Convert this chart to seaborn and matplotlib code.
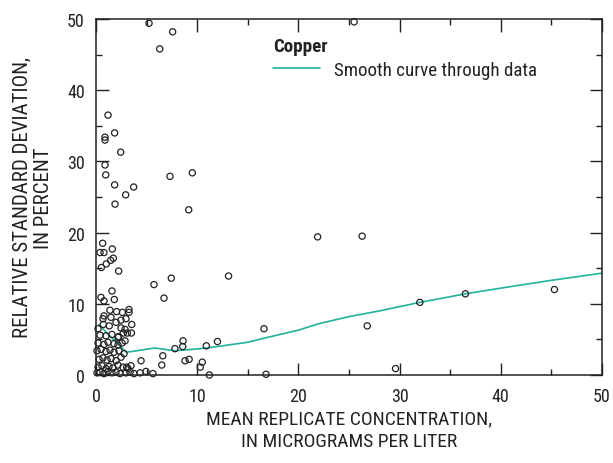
import matplotlib
matplotlib.use("Agg")
import matplotlib.pyplot as plt
import seaborn as sns
import pandas as pd
from matplotlib.ticker import MultipleLocator

# Replicate statistics for copper: mean concentration (ug/L) vs relative standard deviation (%)
conc = [
    5.24, 7.57, 6.3, 25.5, 1.19, 1.84, 0.89, 0.89, 2.44, 0.89, 0.96, 7.31, 9.52,
    1.84, 3.72, 2.93, 1.88, 9.16, 0.66, 0.40, 0.79, 1.61, 1.71, 1.45, 1.02, 0.53,
    2.24, 5.73, 7.44, 6.72, 1.58, 0.49, 0.79, 1.81, 1.38, 2.04, 2.6, 3.26, 3.26,
    0.79, 3.53, 0.72, 1.31, 1.98, 2.7, 3.1, 3.5, 2.24, 2.87, 8.6, 8.57, 7.8, 10.9,
    6.6, 4.45, 6.5, 8.8, 9.2, 10.5, 10.3, 3.46, 3.03, 21.9, 26.3, 13.1, 16.6, 26.8,
    12.0, 11.2, 16.8, 29.6, 32.0, 36.5, 45.3,
    0.69, 1.48, 2.47, 2.96,
    0.20, 2.47, 2.87,
    0.40, 0.99, 1.58, 2.17,
    0.20, 0.79, 1.19, 1.78, 2.17, 2.57,
    0.10, 0.49, 0.99, 1.38, 1.78, 2.27, 2.77,
    0.30, 0.69, 1.09, 1.48, 1.98, 2.47,
    0.20, 0.59, 0.99, 1.28, 1.68, 2.17, 2.67, 3.16,
    0.10, 0.40, 0.79, 1.19, 1.58, 1.98, 2.37, 2.96, 3.36, 3.75, 4.35, 4.94, 5.63,
]
rsd = [
    49.4, 48.2, 45.8, 49.6, 36.5, 34.0, 33.4, 33.0, 31.3, 29.5, 28.1, 27.9, 28.4,
    26.7, 26.4, 25.3, 24.0, 23.2, 18.5, 17.2, 17.2, 17.7, 16.4, 16.1, 15.6, 15.1,
    14.6, 12.7, 13.6, 10.8, 11.8, 10.9, 10.4, 10.6, 9.1, 8.9, 8.8, 9.2, 8.8,
    8.3, 7.1, 7.1, 6.9, 7.4, 5.9, 5.9, 5.9, 5.4, 4.8, 4.8, 4.0, 3.7, 4.1,
    2.7, 2.0, 1.4, 2.0, 2.2, 1.8, 1.1, 1.3, 1.1, 19.4, 19.5, 13.9, 6.5, 6.9,
    4.7, 0.0, 0.1, 0.9, 10.2, 11.4, 12.0,
    7.9, 8.1, 7.7, 7.9,
    6.5, 6.6, 6.4,
    5.6, 5.5, 5.7, 5.3,
    4.5, 4.3, 4.6, 4.4, 4.2, 4.5,
    3.4, 3.6, 3.3, 3.5, 3.2, 3.4, 3.0,
    2.2, 2.4, 2.1, 2.3, 2.0, 2.5,
    1.1, 1.3, 0.9, 1.2, 1.0, 1.4, 1.1, 0.9,
    0.3, 0.4, 0.2, 0.5, 0.3, 0.4, 0.2, 0.3, 0.4, 0.2, 0.3, 0.5, 0.2,
]

# Smooth curve through the data
curve_x = [0.3, 1.0, 2.0, 3.0, 4.0, 5.8, 7.8, 9.5, 11.0, 13.0, 15.0, 17.0, 20.0,
           22.0, 25.0, 28.0, 32.0, 36.5, 40.0, 45.0, 50.0]
curve_y = [7.1, 6.0, 4.6, 3.2, 3.4, 3.8, 3.4, 3.6, 3.8, 4.2, 4.6, 5.3, 6.3,
           7.2, 8.2, 9.0, 10.2, 11.4, 12.2, 13.3, 14.3]

points = pd.DataFrame({"conc": conc, "rsd": rsd})
curve = pd.DataFrame({"conc": curve_x, "rsd": curve_y})

sns.set_style("ticks")
plt.rcParams["font.family"] = ["Roboto Condensed", "Roboto", "DejaVu Sans"]
ink = "#222222"

fig = plt.figure(figsize=(6.13, 4.64), dpi=100)
ax = fig.add_axes([96 / 613, 1 - 376 / 464, 506 / 613, 356 / 464])

sns.lineplot(data=curve, x="conc", y="rsd", ax=ax, color="#1fb39c", lw=1.2,
             label="Smooth curve through data", zorder=2)
sns.scatterplot(data=points, x="conc", y="rsd", ax=ax, marker="o", s=20,
                facecolor="none", edgecolor=ink, linewidth=0.9,
                clip_on=False, zorder=3)

ax.set_xlim(0, 50)
ax.set_ylim(0, 50)
ax.xaxis.set_major_locator(MultipleLocator(10))
ax.xaxis.set_minor_locator(MultipleLocator(5))
ax.yaxis.set_major_locator(MultipleLocator(10))
ax.yaxis.set_minor_locator(MultipleLocator(5))
ax.tick_params(which="both", direction="in", top=True, right=True,
               color=ink, width=1.0, labelsize=13, labelcolor=ink)
ax.tick_params(which="major", length=9, pad=8)
ax.tick_params(which="minor", length=4.5)
ax.tick_params(axis="x", which="major", pad=9)
for sp in ax.spines.values():
    sp.set_visible(True)
    sp.set_linewidth(1.1)
    sp.set_color(ink)

ax.set_xlabel("MEAN REPLICATE CONCENTRATION,\nIN MICROGRAMS PER LITER",
              fontsize=14, color=ink, labelpad=3, linespacing=1.3)
ax.set_ylabel("RELATIVE STANDARD DEVIATION,\nIN PERCENT",
              fontsize=15, color=ink, labelpad=10, linespacing=1.15)

leg = ax.legend(title="Copper", loc="upper left", bbox_to_anchor=(0.335, 0.97),
                frameon=False, fontsize=13.7, title_fontsize=13.7,
                handlelength=2.45, handletextpad=0.74, alignment="left",
                borderaxespad=0, labelspacing=0.3)
leg.get_title().set_fontweight("bold")
leg.get_title().set_color(ink)
for t in leg.get_texts():
    t.set_color(ink)

fig.savefig("out.png", dpi=100)
